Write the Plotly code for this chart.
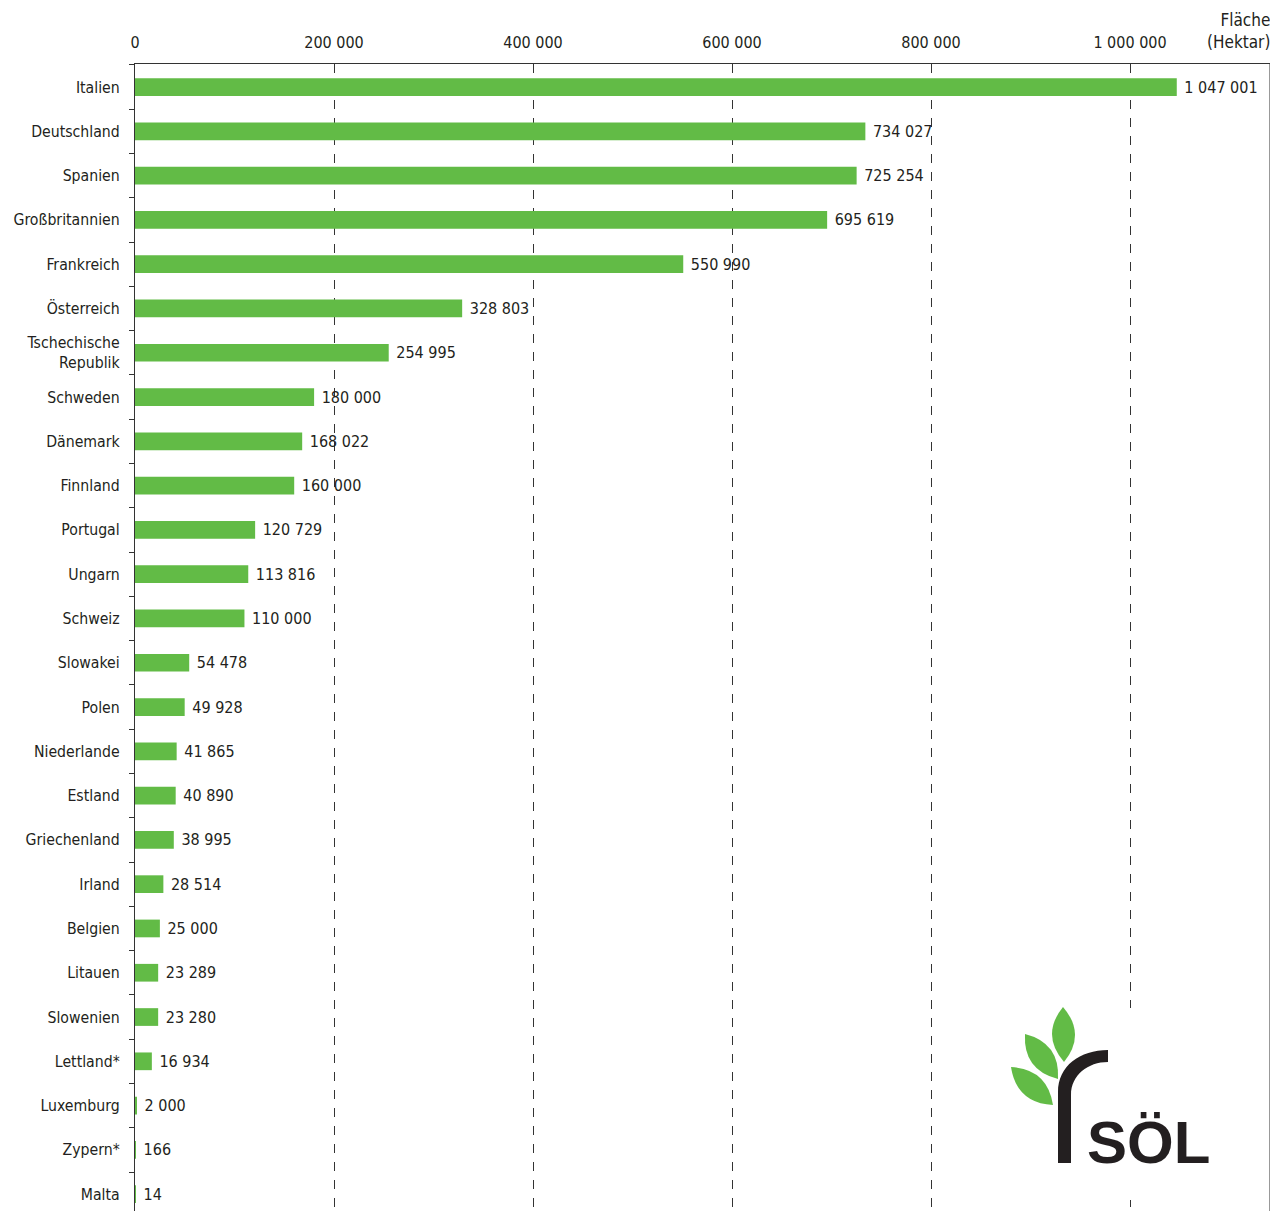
import plotly.graph_objects as go

countries = ["Italien", "Deutschland", "Spanien", "Großbritannien", "Frankreich",
             "Österreich", "Tschechische<br>Republik", "Schweden", "Dänemark", "Finnland",
             "Portugal", "Ungarn", "Schweiz", "Slowakei", "Polen", "Niederlande",
             "Estland", "Griechenland", "Irland", "Belgien", "Litauen", "Slowenien",
             "Lettland*", "Luxemburg", "Zypern*", "Malta"]
hectares = [1047001, 734027, 725254, 695619, 550990, 328803, 254995, 180000, 168022,
            160000, 120729, 113816, 110000, 54478, 49928, 41865, 40890, 38995, 28514,
            25000, 23289, 23280, 16934, 2000, 166, 14]
x_ticks = [0, 200000, 400000, 600000, 800000, 1000000]

OFF = 8  # page body margin of the browser
W, H = 1278 - OFF, 1211 - OFF
L, R, T, B = 135 - OFF, 8, 64 - OFF, 0
GREEN = "#62bb46"
INK = "#231f20"
FONT = "Liberation Sans Narrow, DejaVu Sans Condensed, Arial Narrow, sans-serif"
FS = 16

pw, ph = W - L - R, H - T - B


def P(px, py):
    # reference-screen pixel -> paper coordinates
    px -= OFF
    py -= OFF
    return (px - L) / pw, (H - B - py) / ph


fig = go.Figure(go.Bar(
    x=hectares, y=countries, orientation="h",
    marker=dict(color=GREEN, line=dict(width=0)),
    width=0.4,
    text=hectares,
    texttemplate="\u00a0%{x:,d}",
    textposition="outside",
    constraintext="none",
    textfont=dict(family=FONT, size=FS, color=INK),
    cliponaxis=False,
    hoverinfo="skip",
))

fig.update_layout(
    width=W, height=H,
    margin=dict(l=L, r=R, t=T, b=B, pad=0, autoexpand=False),
    paper_bgcolor="white", plot_bgcolor="white",
    separators=", ",
    showlegend=False,
    font=dict(family=FONT, size=FS, color=INK),
    bargap=0.6,
)

fig.update_xaxes(
    side="top", range=[0, 1140700], tickvals=x_ticks, tickformat=",d",
    showgrid=True, gridcolor="#333333", gridwidth=1, griddash="dash",
    zeroline=False, showline=True, linecolor="#333333", linewidth=1,
    ticks="", ticklabelstandoff=9, automargin=False,
    tickfont=dict(family=FONT, size=FS, color=INK),
)
fig.update_yaxes(
    categoryorder="array", categoryarray=countries,
    range=[25.38, -0.52],
    showline=True, linecolor="#333333", linewidth=1.3,
    ticks="outside", tickson="boundaries", ticklen=5, tickcolor="#333333",
    ticklabelstandoff=11, showgrid=False, zeroline=False, automargin=False,
    tickfont=dict(family=FONT, size=15.7, color=INK),
)

shapes = []
# right frame line
shapes.append(dict(type="line", xref="paper", yref="paper", x0=1, x1=1, y0=0, y1=1,
                   line=dict(color="#333333", width=1)))
# white backdrop for logo
x0, y0 = P(1004, 1008)
x1, y1 = P(1266, 1200)
shapes.append(dict(type="rect", xref="paper", yref="paper", x0=x0, x1=x1, y0=y1, y1=y0,
                   fillcolor="white", line=dict(width=0), layer="above"))


def leaf(a, b, half):
    ax, ay = a
    bx, by = b
    mx, my = (ax + bx) / 2, (ay + by) / 2
    dx, dy = bx - ax, by - ay
    ln = (dx * dx + dy * dy) ** 0.5
    nx, ny = -dy / ln, dx / ln
    c1 = (mx + nx * 2 * half, my + ny * 2 * half)
    c2 = (mx - nx * 2 * half, my - ny * 2 * half)
    pts = [P(*a), P(*c1), P(*b), P(*c2)]
    return ("M {0[0]},{0[1]} Q {1[0]},{1[1]} {2[0]},{2[1]} Q {3[0]},{3[1]} {0[0]},{0[1]} Z"
            .format(*pts))


for a, b in [((1063, 1007), (1064, 1062)), ((1025, 1034), (1058, 1079)), ((1011, 1067), (1053, 1105))]:
    shapes.append(dict(type="path", xref="paper", yref="paper", path=leaf(a, b, 11.5),
                       fillcolor=GREEN, line=dict(width=0), layer="above"))

# the "r" stem
pts = [(1058, 1163), (1058, 1092), (1058, 1066), (1080, 1050), (1108, 1050), (1108, 1062),
       (1088, 1062), (1071, 1075), (1071, 1095), (1071, 1163)]
pp = [P(*p) for p in pts]
rpath = ("M {0[0]},{0[1]} L {1[0]},{1[1]} C {2[0]},{2[1]} {3[0]},{3[1]} {4[0]},{4[1]} "
         "L {5[0]},{5[1]} C {6[0]},{6[1]} {7[0]},{7[1]} {8[0]},{8[1]} L {9[0]},{9[1]} Z").format(*pp)
shapes.append(dict(type="path", xref="paper", yref="paper", path=rpath,
                   fillcolor=INK, line=dict(width=0), layer="above"))
fig.update_layout(shapes=shapes)

sx, sy = P(1085, 1142)
fx, fy = P(1272, 54)
fig.update_layout(annotations=[
    dict(text="<b>SÖL</b>", xref="paper", yref="paper", x=sx, y=sy, xanchor="left", yanchor="middle",
         showarrow=False, font=dict(family="Liberation Sans, Arial, sans-serif", size=60, color=INK)),
    dict(text="Fläche<br>(Hektar)", xref="paper", yref="paper", x=fx, y=fy, xanchor="right",
         yanchor="bottom", align="right", showarrow=False,
         font=dict(family=FONT, size=17, color=INK)),
])

fig.write_html("out.html")
